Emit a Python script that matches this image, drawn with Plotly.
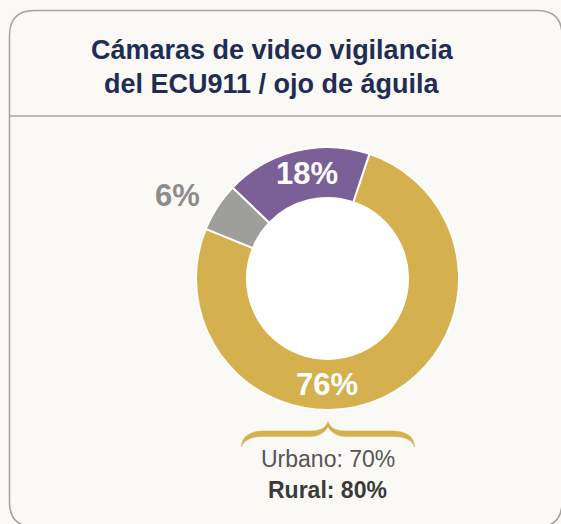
import plotly.graph_objects as go

W, H = 561, 524

# Data
labels = ["Urbano/rural", "Otros", "ECU911"]
values = [76, 6, 18]
colors = ["#D4B04F", "#9E9E9C", "#7B5F97"]
title_lines = ["Cámaras de video vigilancia", "del ECU911 / ojo de águila"]
detail_labels = ["Urbano", "Rural"]
detail_values = [70, 80]

def X(px):
    return px / W

def Y(py):
    return 1 - py / H

cx, cy, R, r_in = 327.5, 278.5, 131.5, 80.5
start_angle = 18.6

fig = go.Figure()
fig.add_trace(go.Pie(
    labels=labels, values=values, sort=False, direction="clockwise",
    rotation=start_angle, hole=r_in / R,
    marker=dict(colors=colors, line=dict(color="white", width=2)),
    textinfo="none", hoverinfo="label+percent", showlegend=False,
    domain=dict(x=[X(cx - R), X(cx + R)], y=[Y(cy + R), Y(cy - R)]),
))

shapes = []
# card border
l, t, rgt, b, rad = 9.5, 10.5, 562, 527, 25
card = (f"M {X(l)},{Y(t+rad)} Q {X(l)},{Y(t)} {X(l+rad)},{Y(t)} "
        f"L {X(rgt-rad)},{Y(t)} Q {X(rgt)},{Y(t)} {X(rgt)},{Y(t+rad)} "
        f"L {X(rgt)},{Y(b-rad)} Q {X(rgt)},{Y(b)} {X(rgt-rad)},{Y(b)} "
        f"L {X(l+rad)},{Y(b)} Q {X(l)},{Y(b)} {X(l)},{Y(b-rad)} Z")
shapes.append(dict(type="path", xref="paper", yref="paper", path=card,
                   line=dict(color="#A3A3A3", width=1.5), layer="below"))
shapes.append(dict(type="line", xref="paper", yref="paper",
                   x0=X(l), x1=X(rgt), y0=Y(116), y1=Y(116),
                   line=dict(color="#A3A3A3", width=1.5), layer="below"))
# white hole
shapes.append(dict(type="circle", xref="paper", yref="paper",
                   x0=X(cx - r_in), x1=X(cx + r_in), y0=Y(cy + r_in), y1=Y(cy - r_in),
                   fillcolor="white", line=dict(width=0), layer="below"))
# brace (filled, tapered)
pts = [("M", [(241.5, 447)]),
       ("C", [(241.5, 438), (248, 431.5), (262, 431)]),
       ("L", [(310, 431)]),
       ("C", [(320, 431), (326, 428), (328, 421.5)]),
       ("C", [(330, 428), (336, 431), (346, 431)]),
       ("L", [(394, 431)]),
       ("C", [(408, 431.5), (414.5, 438), (414.5, 447)]),
       ("C", [(413, 441), (406, 436.5), (394, 436.5)]),
       ("L", [(346, 436.5)]),
       ("C", [(337, 436.5), (330.5, 432), (328, 426.5)]),
       ("C", [(325.5, 432), (319, 436.5), (310, 436.5)]),
       ("L", [(262, 436.5)]),
       ("C", [(250, 436.5), (243, 441), (241.5, 447)])]
brace = " ".join(cmd + " " + " ".join(f"{X(px)},{Y(py)}" for px, py in p) for cmd, p in pts) + " Z"
shapes.append(dict(type="path", xref="paper", yref="paper", path=brace,
                   fillcolor=colors[0], line=dict(color=colors[0], width=0.5)))

FONT = "Liberation Sans, Arial, Helvetica, sans-serif"
ann = []
for i, (line, py) in enumerate(zip(title_lines, [50, 83.5])):
    ann.append(dict(text=f"<b>{line}</b>", x=X(272), y=Y(py), xref="paper", yref="paper",
                    showarrow=False, xanchor="center", yanchor="middle",
                    font=dict(family=FONT, size=27, color="#1F2D54")))
# slice labels
label_pos = [(326.5, 384, "white"), (177, 195, "#8C8C8C"), (307, 174, "white")]
for v, (px, py, c) in zip(values, label_pos):
    ann.append(dict(text=f"<b>{v}%</b>", x=X(px), y=Y(py), xref="paper", yref="paper",
                    showarrow=False, xanchor="center", yanchor="middle",
                    font=dict(family=FONT, size=31, color=c)))
ann.append(dict(text=f"{detail_labels[0]}: {detail_values[0]}%", x=X(327.5), y=Y(459),
                xref="paper", yref="paper", showarrow=False, xanchor="center", yanchor="middle",
                font=dict(family=FONT, size=23, color="#555555")))
ann.append(dict(text=f"<b>{detail_labels[1]}: {detail_values[1]}%</b>", x=X(327.5), y=Y(489.5),
                xref="paper", yref="paper", showarrow=False, xanchor="center", yanchor="middle",
                font=dict(family=FONT, size=23, color="#3A3A3A")))

fig.update_layout(width=W, height=H, margin=dict(l=0, r=0, t=0, b=0),
                  paper_bgcolor="#FAF9F5", plot_bgcolor="#FAF9F5",
                  shapes=shapes, annotations=ann)
fig.write_html("out.html", config={"displayModeBar": False},
               post_script="document.body.style.margin='0';document.body.style.overflow='hidden';document.body.style.background='#FAF9F5';")
